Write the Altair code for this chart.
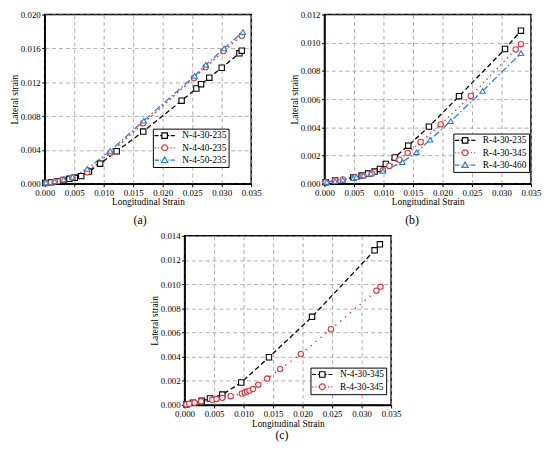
import altair as alt
import pandas as pd

FONT = "Liberation Serif"
BLACK = "#000000"
RED = "#e8333b"
BLUE = "#2f7dd6"

X_TICKS = [0.0, 0.005, 0.010, 0.015, 0.020, 0.025, 0.030, 0.035]

# ---- panel (a) ----
a1_name = "N-4-30-235"
a1_x = [0.0001, 0.0011, 0.0022, 0.0032, 0.0042, 0.0051, 0.0062, 0.0075, 0.0094, 0.0122,
        0.0167, 0.0232, 0.0257, 0.0265, 0.0279, 0.0300, 0.0330, 0.0334]
a1_y = [0.00008, 0.00016, 0.00027, 0.00043, 0.00058, 0.0007, 0.0009, 0.00144, 0.00237, 0.00384,
        0.00617, 0.00982, 0.01126, 0.01177, 0.01254, 0.01371, 0.01542, 0.01573]
a2_name = "N-4-40-235"
a2_x = [0.0002, 0.0017, 0.0031, 0.0047, 0.0072, 0.0111, 0.0167, 0.0253, 0.0273, 0.0303, 0.0334]
a2_y = [0.0001, 0.00027, 0.00047, 0.00074, 0.00136, 0.00365, 0.00715, 0.0125, 0.01379, 0.01569, 0.01751]
a3_name = "N-4-50-235"
a3_x = [0.0002, 0.0017, 0.0032, 0.0047, 0.0072, 0.0111, 0.0168, 0.0254, 0.0273, 0.0304, 0.0336]
a3_y = [0.00016, 0.00031, 0.0005, 0.00082, 0.00175, 0.00388, 0.00746, 0.01274, 0.01406, 0.0160, 0.01794]
a_yticks = [0.0, 0.004, 0.008, 0.012, 0.016, 0.020]

# ---- panel (b) ----
b1_name = "R-4-30-235"
b1_x = [0.0002, 0.0018, 0.0049, 0.0063, 0.0074, 0.0085, 0.0094, 0.0104, 0.0119, 0.0142,
        0.0177, 0.0228, 0.0306, 0.0333]
b1_y = [0.0001, 0.00023, 0.00044, 0.00058, 0.00072, 0.00086, 0.00105, 0.0014, 0.00186, 0.0027,
        0.00405, 0.00621, 0.00956, 0.01086]
b2_name = "R-4-30-345"
b2_x = [0.0002, 0.0018, 0.0031, 0.0051, 0.0066, 0.0080, 0.0099, 0.0110, 0.0127, 0.0141,
        0.0163, 0.0197, 0.0248, 0.0324, 0.0333]
b2_y = [0.0001, 0.00023, 0.0003, 0.00044, 0.00058, 0.00072, 0.00095, 0.00126, 0.0017, 0.00219,
        0.00295, 0.00421, 0.00623, 0.00953, 0.0099]
b3_name = "R-4-30-460"
b3_x = [0.0004, 0.0018, 0.0031, 0.0049, 0.0054, 0.0066, 0.0079, 0.0099, 0.0132, 0.0156,
        0.0179, 0.0214, 0.0268, 0.0333]
b3_y = [0.00012, 0.00019, 0.00028, 0.0004, 0.00047, 0.00058, 0.00072, 0.00091, 0.00153, 0.00223,
        0.00312, 0.00444, 0.00658, 0.00926]
b_yticks = [0.0, 0.002, 0.004, 0.006, 0.008, 0.010, 0.012]

# ---- panel (c) ----
c1_name = "N-4-30-345"
c1_x = [0.0003, 0.0014, 0.0029, 0.0043, 0.0064, 0.0096, 0.0143, 0.0216, 0.0322, 0.0331]
c1_y = [0.00005, 0.00019, 0.00035, 0.00054, 0.00086, 0.00186, 0.00395, 0.0073, 0.0128, 0.0133]
c2_name = "R-4-30-345"
c2_x = [0.0003, 0.0008, 0.0017, 0.0028, 0.0047, 0.0054, 0.0064, 0.0078, 0.0097, 0.0102,
        0.0106, 0.0110, 0.0116, 0.0125, 0.0140, 0.0162, 0.0197, 0.0248, 0.0325, 0.0332]
c2_y = [0.00005, 0.0001, 0.00019, 0.0003, 0.00043, 0.00049, 0.00059, 0.00073, 0.00095, 0.00103,
        0.00111, 0.00119, 0.00132, 0.00168, 0.00219, 0.00297, 0.00422, 0.00627, 0.00946, 0.00978]
c_yticks = [0.0, 0.002, 0.004, 0.006, 0.008, 0.010, 0.012, 0.014]

# legend symbols: line segments + marker, in unit symbol coordinates
SQ = "M-0.7,-0.7H0.7V0.7H-0.7Z"
CI = "M-0.75,0A0.75,0.75,0,1,0,0.75,0A0.75,0.75,0,1,0,-0.75,0Z"
TR = "M0,-0.8L0.8,0.6H-0.8Z"
L_DASH = "M-2.6,0H-1.55M-1.15,0H-0.7M0.7,0H1.15M1.55,0H2.6"
L_DOT = "M-2.55,0H-2.25M-1.75,0H-1.45M-1.0,0H-0.8M0.8,0H1.0M1.45,0H1.75M2.25,0H2.55"
L_DASHDOT = "M-2.6,0H-1.45M-1.15,0H-0.95M0.95,0H1.15M1.45,0H2.6"

DASH = [5, 3]
DOT_A = [2, 3]
DOT = [1.5, 3.5]
DASHDOT = [7, 2.5, 1.5, 2.5]


def panel(series, ymax, yticks, lx, ly, caption, cdx, coff):
    rows = []
    for s in series:
        for i, (x, y) in enumerate(zip(s["x"], s["y"])):
            rows.append({"series": s["name"], "x": x, "y": y, "i": i})
    df = pd.DataFrame(rows)
    names = [s["name"] for s in series]
    colors = [s["color"] for s in series]
    dashes = [s["dash"] for s in series]
    shapes = [s["shape"] for s in series]
    paths = [s["legend"] for s in series]

    xenc = alt.X("x:Q", scale=alt.Scale(domain=[0, 0.035], nice=False, zero=False),
                 axis=alt.Axis(values=X_TICKS, format=".3f", title="Longitudinal Strain",
                               labelFlush=False, labelOverlap=False,
                               labelFont=FONT, titleFont=FONT))
    yenc = alt.Y("y:Q", scale=alt.Scale(domain=[0, ymax], nice=False, zero=False),
                 axis=alt.Axis(values=yticks, format=".3f", title="Lateral strain",
                               labelFlush=False, labelOverlap=False,
                               labelFont=FONT, titleFont=FONT))
    base = alt.Chart(df).encode(x=xenc, y=yenc)

    lines = base.mark_line(strokeWidth=1.3).encode(
        color=alt.Color("series:N", scale=alt.Scale(domain=names, range=colors), legend=None),
        strokeDash=alt.StrokeDash("series:N", scale=alt.Scale(domain=names, range=dashes), legend=None),
        order="i:Q",
    )
    points = base.mark_point(filled=False, fill="white", fillOpacity=1, opacity=1,
                             size=30, strokeWidth=1.1).encode(
        color=alt.Color("series:N", scale=alt.Scale(domain=names, range=colors), legend=None),
        shape=alt.Shape("series:N", scale=alt.Scale(domain=names, range=shapes), legend=None),
    )
    leg = base.mark_point(filled=False, opacity=1).encode(
        color=alt.Color("series:N", scale=alt.Scale(domain=names, range=colors),
                        legend=alt.Legend(title=None, orient="none", legendX=lx, legendY=ly)),
        shape=alt.Shape("series:N", scale=alt.Scale(domain=names, range=paths),
                        legend=alt.Legend(title=None, orient="none", legendX=lx, legendY=ly)),
    ).transform_filter("false")

    return alt.layer(lines, points, leg).resolve_scale(
        color="independent", shape="independent", strokeDash="independent"
    ).properties(
        width=210, height=172,
        title=alt.TitleParams(caption, orient="bottom", anchor="middle", frame="group",
                              dx=cdx, offset=coff, font=FONT, fontSize=12,
                              fontWeight="normal", color="black"),
    )


pa = panel([
    {"name": a1_name, "x": a1_x, "y": a1_y, "color": BLACK, "dash": DASH, "shape": "square", "legend": L_DASH + SQ},
    {"name": a2_name, "x": a2_x, "y": a2_y, "color": RED, "dash": DOT_A, "shape": "circle", "legend": L_DOT + CI},
    {"name": a3_name, "x": a3_x, "y": a3_y, "color": BLUE, "dash": DASHDOT, "shape": "triangle-up", "legend": L_DASHDOT + TR},
], 0.020, a_yticks, 110, 116, "(a)", -8, 9)

pb = panel([
    {"name": b1_name, "x": b1_x, "y": b1_y, "color": BLACK, "dash": DASH, "shape": "square", "legend": L_DASH + SQ},
    {"name": b2_name, "x": b2_x, "y": b2_y, "color": RED, "dash": DOT, "shape": "circle", "legend": L_DOT + CI},
    {"name": b3_name, "x": b3_x, "y": b3_y, "color": BLUE, "dash": DASHDOT, "shape": "triangle-up", "legend": L_DASHDOT + TR},
], 0.012, b_yticks, 131, 121, "(b)", -16, 9)

pc = panel([
    {"name": c1_name, "x": c1_x, "y": c1_y, "color": BLACK, "dash": DASH, "shape": "square", "legend": L_DASH + SQ},
    {"name": c2_name, "x": c2_x, "y": c2_y, "color": RED, "dash": [1.5, 5], "shape": "circle", "legend": L_DOT + CI},
], 0.014, c_yticks, 128, 134, "(c)", -6, 3)

top = alt.hconcat(pa, pb, spacing=26.5).resolve_scale(
    color="independent", shape="independent", strokeDash="independent")

chart = alt.vconcat(top, pc, spacing=4, center=True).resolve_scale(
    color="independent", shape="independent", strokeDash="independent"
).properties(
    padding={"left": 0, "top": -2, "right": 0, "bottom": 0}
).configure_view(
    stroke="black", strokeWidth=1.5
).configure_axis(
    labelFont=FONT, labelFontSize=9, labelColor="black",
    titleFont=FONT, titleFontSize=9.5, titleFontWeight="normal", titleColor="black",
    domainColor="black", domainWidth=1.5,
    tickColor="black", tickSize=3, tickWidth=1,
    gridColor="#9a9a9a", gridDash=[4, 3], gridWidth=0.8,
    labelPadding=1.5, titlePadding=1,
).configure_axisX(titlePadding=0).configure_legend(
    strokeColor="black", fillColor="white", padding=2,
    labelFont=FONT, labelFontSize=9.5, labelColor="black",
    symbolSize=64, symbolOffset=5, labelOffset=13,
    symbolStrokeWidth=1.2, rowPadding=0.5,
)

chart.save("out.html", embed_options={"renderer": "svg", "actions": False})
